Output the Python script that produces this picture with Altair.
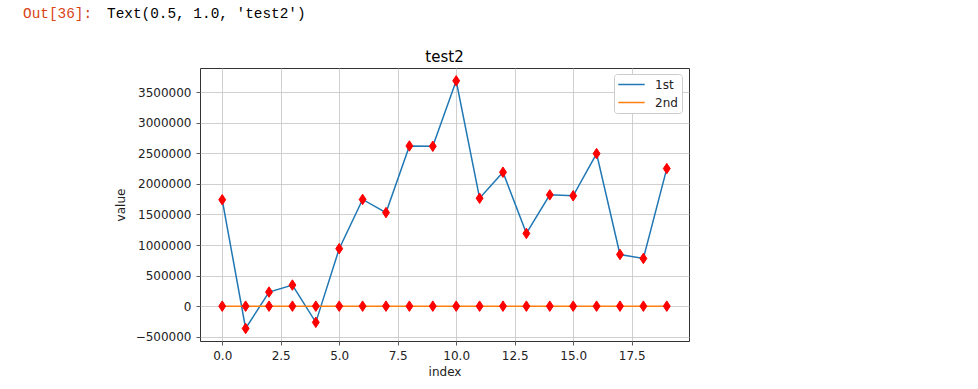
import altair as alt
import pandas as pd

# ---- data ----
index_vals = [0, 1, 2, 3, 4, 5, 6, 7, 8, 9, 10, 11, 12, 13, 14, 15, 16, 17, 18, 19]
first_vals = [1740000, -365000, 230000, 345000, -265000, 940000, 1745000, 1530000,
              2620000, 2615000, 3685000, 1765000, 2190000, 1190000, 1820000,
              1805000, 2495000, 845000, 780000, 2250000]
second_vals = [0, 0, 0, 0, 0, 0, 0, 0, 0, 0, 0, 0, 0, 0, 0, 0, 0, 0, 0, 0]
series_names = ["1st", "2nd"]
series_colors = ["#1f77b4", "#ff7f0e"]
x_ticks = [0, 2.5, 5, 7.5, 10, 12.5, 15, 17.5]
y_ticks = [-500000, 0, 500000, 1000000, 1500000, 2000000, 2500000, 3000000, 3500000]
prompt_text = ["Out[36]:"]
output_text = ["Text(0.5, 1.0, 'test2')"]
title_text = ["test2"]

df = pd.DataFrame({
    "index": index_vals + index_vals,
    "value": first_vals + second_vals,
    "series": [series_names[0]] * len(index_vals) + [series_names[1]] * len(index_vals),
})

FONT = "DejaVu Sans"
W, H = 489, 273
x_enc = alt.X("index:Q",
              scale=alt.Scale(domain=[-0.95, 19.95], nice=False, zero=False),
              axis=alt.Axis(values=x_ticks, format=".1f", title="index",
                            labelFlush=False, labelOverlap=False, titlePadding=5))
y_enc = alt.Y("value:Q",
              scale=alt.Scale(domain=[-570000, 3895000], nice=False, zero=False),
              axis=alt.Axis(values=y_ticks, format="d", title="value",
                            labelOverlap=False, titlePadding=8))

lines = alt.Chart(df).mark_line(strokeWidth=1.5).encode(
    x=x_enc, y=y_enc,
    color=alt.Color("series:N",
                    scale=alt.Scale(domain=series_names, range=series_colors),
                    legend=alt.Legend(title=None, orient="none", legendX=414, legendY=6,
                                      symbolType="M-2.4,0L2.4,0", symbolSize=121,
                                      symbolOffset=7, symbolStrokeWidth=1.5,
                                      labelFontSize=12, labelFont=FONT,
                                      labelColor="#222222", labelOffset=17,
                                      padding=4, rowPadding=5,
                                      fillColor="white", strokeColor="#cccccc",
                                      cornerRadius=3)),
)

thin_diamond = "M0,-1L0.66,0L0,1L-0.66,0Z"
points = alt.Chart(df).mark_point(shape=thin_diamond, filled=True, fill="red",
                                  stroke="red", strokeWidth=1, size=110, opacity=1).encode(
    x=x_enc, y=y_enc, detail="series:N")

prompt = alt.Chart(pd.DataFrame({"t": prompt_text})).mark_text(
    font="Liberation Mono", fontSize=14.4, color="#D84315", align="left", baseline="middle"
).encode(x=alt.value(-177), y=alt.value(-54), text="t:N")

output = alt.Chart(pd.DataFrame({"t": output_text})).mark_text(
    font="Liberation Mono", fontSize=14.4, color="#000000", align="left", baseline="middle"
).encode(x=alt.value(-93), y=alt.value(-54), text="t:N")

title = alt.Chart(pd.DataFrame({"t": title_text})).mark_text(
    font=FONT, fontSize=15, color="#000000", align="center", baseline="alphabetic"
).encode(x=alt.value(W / 2), y=alt.value(-6), text="t:N")

chart = alt.layer(lines, points, prompt, output, title).properties(
    width=W, height=H,
    background="white",
    autosize=alt.AutoSizeParams(type="none"),
    padding={"left": 200, "top": 68, "right": 289, "bottom": 48},
).configure_view(stroke="#333333", strokeWidth=1).configure_axis(
    domain=False, grid=True, gridColor="#c4c4c4", gridWidth=0.8,
    labelFont=FONT, labelFontSize=12, labelColor="#222222", labelPadding=5,
    titleFont=FONT, titleFontSize=12, titleFontWeight="normal", titleColor="#222222",
    tickColor="#333333", tickSize=4, tickWidth=0.8,
)

chart.save("out.html", embed_options={"renderer": "svg", "actions": False})
